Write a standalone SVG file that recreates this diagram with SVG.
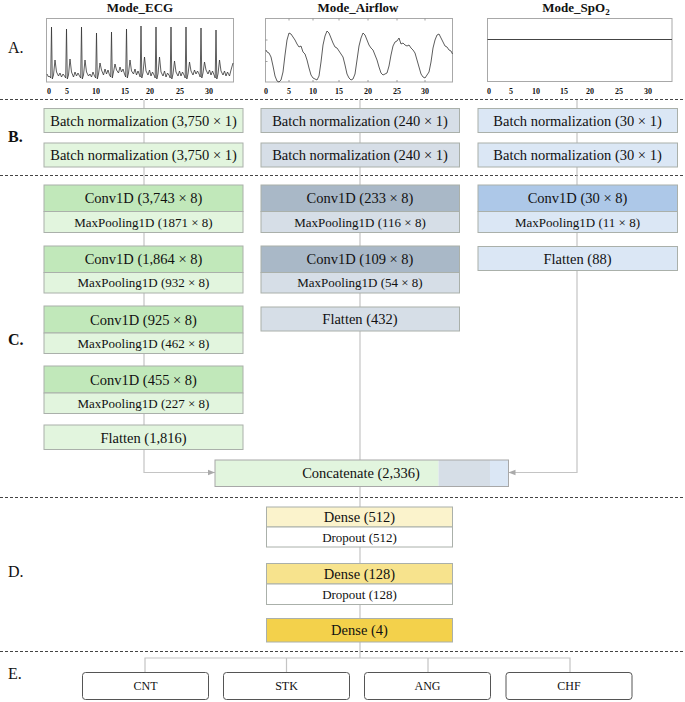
<svg xmlns="http://www.w3.org/2000/svg" width="685" height="702" viewBox="0 0 685 702">
<style>
text{font-family:"Liberation Serif","Times New Roman",serif;fill:#111}
.t{font-size:13px;font-weight:bold;text-anchor:middle}
.sec{font-size:16px}
.ax{font-size:8px;font-weight:bold;text-anchor:middle}
.l{font-size:14.5px;text-anchor:middle}
.s{font-size:13px;text-anchor:middle}
.o{font-size:12px;text-anchor:middle}
.frame{fill:#fff;stroke:#a8a8a8;stroke-width:1}
.sig{fill:none;stroke:#333;stroke-width:0.8}
.dash{stroke:#444;stroke-width:1;stroke-dasharray:3,2}
.b{stroke:#aab0aa;stroke-width:1}
.g1{fill:#e2f5de}.g2{fill:#c1e8ba}
.a1{fill:#d6dee7}.a2{fill:#a9b8c7}
.p1{fill:#dbe7f5}.p2{fill:#adc8e8}
.y1{fill:#fbf3cc}.y2{fill:#f7e38d}.y3{fill:#f3d14b}
.w{fill:#fff}
.con{fill:none;stroke:#c4c4c4;stroke-width:1.2}
.ob{fill:#fff;stroke:#555;stroke-width:1}
</style>
<defs>
<marker id="ah" viewBox="0 0 10 10" refX="10" refY="5" markerWidth="7" markerHeight="7" orient="auto" markerUnits="userSpaceOnUse">
<path d="M0,1 L10,5 L0,9 z" fill="#aaa"/>
</marker>
</defs>
<rect x="0" y="0" width="685" height="702" fill="#fff"/>

<!-- Section labels -->
<g id="sections">
<text class="sec" x="8" y="53">A.</text>
<text class="sec" x="8" y="142" font-weight="bold">B.</text>
<text class="sec" x="8" y="345" font-weight="bold">C.</text>
<text class="sec" x="8" y="577">D.</text>
<text class="sec" x="8" y="679">E.</text>
</g>

<!-- Dashed separators -->
<g id="separators">
<line class="dash" x1="0" y1="99.5" x2="685" y2="99.5"/>
<line class="dash" x1="0" y1="175.5" x2="685" y2="175.5"/>
<line class="dash" x1="0" y1="497.5" x2="685" y2="497.5"/>
<line class="dash" x1="0" y1="651.5" x2="685" y2="651.5"/>
</g>

<!-- Charts -->
<g id="chart-ecg">
<text class="t" x="140" y="12">Mode_ECG</text>
<rect class="frame" x="46.5" y="18.5" width="187" height="63.5"/>
<path class="sig" d="M47,74 L48.5,77 L49.5,76 L50.7,78 L51.5,27 L52.3,79 L53.5,75 L55,60 L56.5,72 L58.5,76 L60,73 L61.5,77 L63,74 L64.5,76 L65.7,78 L66.5,29 L67.3,79 L68.5,75 L70,59 L71.5,72 L73.5,77 L75,72 L76.5,76 L78,73 L79.5,76 L80.7,78 L81.5,27 L82.3,79 L83.5,75 L85,60 L86.5,72 L88.5,76 L90,74 L91.5,77 L93,72 L94.5,76 L95.7,78 L96.5,33 L97.3,79 L98.5,74 L100,63 L101.5,70 L103.5,75 L105,69 L106.5,74 L108,70 L109.5,75 L110.7,77 L111.5,32 L112.3,78 L113.5,72 L115,64 L116.5,70 L118.5,73 L120,67 L121.5,72 L123,69 L124.5,74 L125.7,77 L126.5,29 L127.3,78 L128.5,73 L130,60 L131.5,71 L133.5,74 L135,69 L136.5,75 L138,71 L139.5,75 L140.2,77 L141,26 L141.8,78 L143,73 L144.5,57 L146,71 L148,75 L149.5,70 L151,76 L152.5,72 L154.5,76 L155.2,78 L156,27 L156.8,79 L158,74 L159.5,57 L161,72 L163,76 L164.5,71 L166,77 L167.5,73 L169.5,76 L170.2,78 L171,27 L171.8,79 L173,74 L174.5,61 L176,72 L178,76 L179.5,71 L181,76 L182.5,72 L184.5,76 L185.2,78 L186,27 L186.8,79 L188,74 L189.5,62 L191,71 L193,75 L194.5,70 L196,74 L197.5,71 L199.5,75 L200.2,77 L201,28 L201.8,78 L203,73 L204.5,62 L206,70 L208,74 L209.5,70 L211,75 L212.5,71 L214.5,76 L215.2,78 L216,30 L216.8,79 L218,74 L219.5,60 L221,71 L223,75 L224.5,71 L226,76 L227.5,72 L229.5,76 L231,70 L233,63"/>
<text class="ax" x="49" y="94">0</text>
<text class="ax" x="67" y="94">5</text>
<text class="ax" x="96" y="94">10</text>
<text class="ax" x="125" y="94">15</text>
<text class="ax" x="150" y="94">20</text>
<text class="ax" x="180" y="94">25</text>
<text class="ax" x="209" y="94">30</text>
</g>

<g id="chart-airflow">
<text class="t" x="358" y="12">Mode_Airflow</text>
<rect class="frame" x="265.5" y="18.5" width="187" height="63.5"/>
<path d="M265.5,40 h2 M265.5,61.5 h2 M289,18.5 v2 M313,18.5 v2 M339,18.5 v2 M368,18.5 v2 M397,18.5 v2 M425,18.5 v2 M289,82 v-2 M313,82 v-2 M339,82 v-2 M368,82 v-2 M397,82 v-2 M425,82 v-2" stroke="#888" stroke-width="0.8" fill="none"/>
<path class="sig" d="M266,50 L267,52 L269,53 L271,57 L273,66 L275,76 L277,81 L279,82 L281,80 L283,72 L285,55 L287,40 L289,33 L291,34 L293,37 L295,40 L297,44 L299,47 L301,46 L303,52 L305,54 L307,60 L309,68 L311,75 L313,78 L315,79 L317,80 L319,76 L321,62 L323,45 L325,36 L327,31 L329,33 L331,38 L333,43 L335,47 L337,48 L339,51 L341,54 L343,57 L345,65 L347,74 L349,78 L351,80 L353,79 L355,74 L357,60 L359,46 L361,38 L363,33 L365,35 L367,40 L369,45 L371,48 L373,50 L375,55 L377,60 L379,67 L381,73 L383,75 L385,74 L387,73 L389,66 L391,55 L393,46 L395,42 L397,41 L399,38 L401,44 L403,43 L405,45 L407,46 L409,45 L411,48 L413,50 L415,53 L417,60 L419,67 L421,74 L423,77 L425,78 L427,75 L429,72 L431,62 L433,48 L435,40 L437,35 L439,34 L441,38 L443,42 L445,46 L447,47 L449,50 L451,51 L452.5,54"/>
<text class="ax" x="266" y="94">0</text>
<text class="ax" x="289" y="94">5</text>
<text class="ax" x="313" y="94">10</text>
<text class="ax" x="339" y="94">15</text>
<text class="ax" x="368" y="94">20</text>
<text class="ax" x="397" y="94">25</text>
<text class="ax" x="425" y="94">30</text>
</g>

<g id="chart-spo2">
<text class="t" x="576" y="12">Mode_SpO<tspan font-size="9" dy="3">2</tspan></text>
<rect class="frame" x="487.5" y="18.5" width="184.5" height="63"/>
<line x1="487.5" y1="39.5" x2="672" y2="39.5" stroke="#444" stroke-width="1"/>
<text class="ax" x="489" y="94">0</text>
<text class="ax" x="511" y="94">5</text>
<text class="ax" x="536" y="94">10</text>
<text class="ax" x="564" y="94">15</text>
<text class="ax" x="590" y="94">20</text>
<text class="ax" x="619" y="94">25</text>
<text class="ax" x="648" y="94">30</text>
</g>

<!-- Connectors -->
<g id="connectors">
<path class="con" d="M144,100 V472.5 H215" marker-end="url(#ah)"/>
<path class="con" d="M360,100 V658"/>
<path class="con" d="M577,100 V472.5 H508.5" marker-end="url(#ah)"/>
<path class="con" d="M145,672 V658 H570 V672 M286.5,658 V672 M428,658 V672"/>
</g>

<!-- ECG column -->
<g id="ecg-bn1"><rect class="g1 b" x="44" y="108.5" width="199" height="24"/><text class="l" x="143.5" y="125.5">Batch normalization (3,750 × 1)</text></g>
<g id="ecg-bn2"><rect class="g1 b" x="44" y="143" width="199" height="24"/><text class="l" x="143.5" y="160">Batch normalization (3,750 × 1)</text></g>
<g id="ecg-conv1"><rect class="g2 b" x="44" y="185" width="199" height="26.5"/><rect class="g1 b" x="44" y="211.5" width="199" height="21"/><text class="l" x="143.5" y="203">Conv1D (3,743 × 8)</text><text class="s" x="143.5" y="226.5">MaxPooling1D (1871 × 8)</text></g>
<g id="ecg-conv2"><rect class="g2 b" x="44" y="246" width="199" height="26.5"/><rect class="g1 b" x="44" y="272.5" width="199" height="20.5"/><text class="l" x="143.5" y="264">Conv1D (1,864 × 8)</text><text class="s" x="143.5" y="287">MaxPooling1D (932 × 8)</text></g>
<g id="ecg-conv3"><rect class="g2 b" x="44" y="306" width="199" height="27"/><rect class="g1 b" x="44" y="333" width="199" height="20.5"/><text class="l" x="143.5" y="324.5">Conv1D (925 × 8)</text><text class="s" x="143.5" y="347.5">MaxPooling1D (462 × 8)</text></g>
<g id="ecg-conv4"><rect class="g2 b" x="44" y="366" width="199" height="27"/><rect class="g1 b" x="44" y="393" width="199" height="20.5"/><text class="l" x="143.5" y="384.5">Conv1D (455 × 8)</text><text class="s" x="143.5" y="407.5">MaxPooling1D (227 × 8)</text></g>
<g id="ecg-flatten"><rect class="g1 b" x="44" y="425" width="199" height="24.5"/><text class="l" x="143.5" y="442.5">Flatten (1,816)</text></g>

<!-- Airflow column -->
<g id="air-bn1"><rect class="a1 b" x="261" y="108.5" width="198.5" height="24"/><text class="l" x="360" y="125.5">Batch normalization (240 × 1)</text></g>
<g id="air-bn2"><rect class="a1 b" x="261" y="143" width="198.5" height="24"/><text class="l" x="360" y="160">Batch normalization (240 × 1)</text></g>
<g id="air-conv1"><rect class="a2 b" x="261" y="185" width="198.5" height="26.5"/><rect class="a1 b" x="261" y="211.5" width="198.5" height="21"/><text class="l" x="360" y="203">Conv1D (233 × 8)</text><text class="s" x="360" y="226.5">MaxPooling1D (116 × 8)</text></g>
<g id="air-conv2"><rect class="a2 b" x="261" y="246" width="198.5" height="26.5"/><rect class="a1 b" x="261" y="272.5" width="198.5" height="20.5"/><text class="l" x="360" y="264">Conv1D (109 × 8)</text><text class="s" x="360" y="287">MaxPooling1D (54 × 8)</text></g>
<g id="air-flatten"><rect class="a1 b" x="261" y="307" width="198.5" height="24"/><text class="l" x="360" y="324">Flatten (432)</text></g>

<!-- SpO2 column -->
<g id="spo2-bn1"><rect class="p1 b" x="478" y="108.5" width="199.5" height="24"/><text class="l" x="577.5" y="125.5">Batch normalization (30 × 1)</text></g>
<g id="spo2-bn2"><rect class="p1 b" x="478" y="143" width="199.5" height="24"/><text class="l" x="577.5" y="160">Batch normalization (30 × 1)</text></g>
<g id="spo2-conv1"><rect class="p2 b" x="478" y="185" width="199.5" height="26.5"/><rect class="p1 b" x="478" y="211.5" width="199.5" height="21"/><text class="l" x="577.5" y="203">Conv1D (30 × 8)</text><text class="s" x="577.5" y="226.5">MaxPooling1D (11 × 8)</text></g>
<g id="spo2-flatten"><rect class="p1 b" x="478" y="246.5" width="199.5" height="24"/><text class="l" x="577.5" y="263.5">Flatten (88)</text></g>

<!-- Concatenate -->
<g id="concatenate">
<rect class="g1" x="215" y="460" width="223.5" height="26.5"/>
<rect class="a1" x="438.5" y="460" width="51.5" height="26.5"/>
<rect class="p1" x="490" y="460" width="18.5" height="26.5"/>
<rect x="215" y="460" width="293.5" height="26.5" fill="none" stroke="#a8a8a8" stroke-width="1"/>
<text class="l" x="361" y="478">Concatenate (2,336)</text>
</g>

<!-- Dense block -->
<g id="dense512"><rect class="y1 b" x="266.5" y="507" width="186" height="20"/><rect class="w b" x="266.5" y="527" width="186" height="20"/><text class="l" x="359.5" y="522">Dense (512)</text><text class="s" x="359.5" y="541.5">Dropout (512)</text></g>
<g id="dense128"><rect class="y2 b" x="266.5" y="563.5" width="186" height="20.5"/><rect class="w b" x="266.5" y="584" width="186" height="20.5"/><text class="l" x="359.5" y="579">Dense (128)</text><text class="s" x="359.5" y="598.5">Dropout (128)</text></g>
<g id="dense4"><rect class="y3 b" x="266.5" y="618.5" width="186" height="23.5"/><text class="l" x="359.5" y="635">Dense (4)</text></g>

<!-- Outputs -->
<g id="out-cnt"><rect class="ob" x="82.5" y="672.5" width="126" height="27" rx="3"/><text class="o" x="145.5" y="690">CNT</text></g>
<g id="out-stk"><rect class="ob" x="223.5" y="672.5" width="126" height="27" rx="3"/><text class="o" x="286.5" y="690">STK</text></g>
<g id="out-ang"><rect class="ob" x="364.5" y="672.5" width="126" height="27" rx="3"/><text class="o" x="427.5" y="690">ANG</text></g>
<g id="out-chf"><rect class="ob" x="506" y="672.5" width="126" height="27" rx="3"/><text class="o" x="569" y="690">CHF</text></g>
</svg>
